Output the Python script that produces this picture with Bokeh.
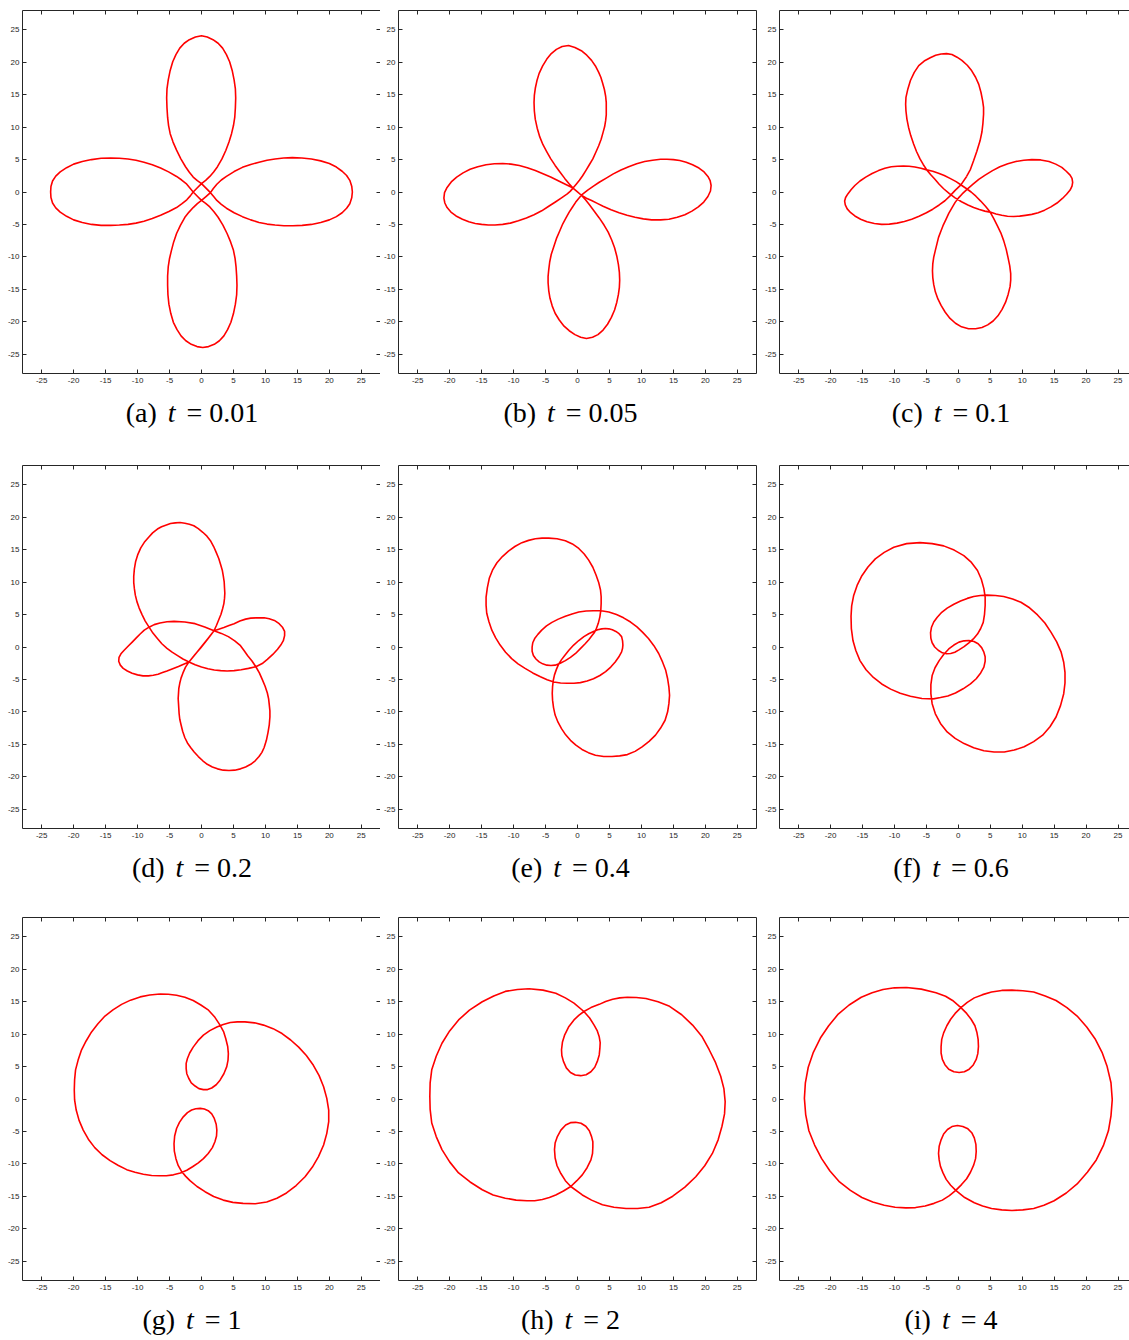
from bokeh.plotting import figure
from bokeh.models import Range1d, LinearAxis, FixedTicker, Div
from bokeh.layouts import column, row
from bokeh.embed import file_html
from bokeh.resources import INLINE

# ---------------- data ----------------
TICKS = [-25, -20, -15, -10, -5, 0, 5, 10, 15, 20, 25]
TICK_LABELS = ["-25", "-20", "-15", "-10", "-5", "0", "5", "10", "15", "20", "25"]
LETTERS = ["a", "b", "c", "d", "e", "f", "g", "h", "i"]
T_VALUES = ["0.01", "0.05", "0.1", "0.2", "0.4", "0.6", "1", "2", "4"]

curve_a = [(0.0,1.3),(0.65,1.8),(1.3,2.4),(1.9,3.1),(2.5,3.9),(3.2,5.1),(3.8,6.4),(4.3,7.7),(4.7,9.0),(5.0,10.25),(5.2,11.5),(5.3,13.0),(5.35,14.5),(5.3,15.9),(5.1,17.3),(4.8,18.75),(4.4,20.1),(3.9,21.2),(3.3,22.2),(2.6,22.95),(1.8,23.5),(0.9,23.9),(0.0,24.1),(-0.95,23.9),(-1.9,23.5),(-2.7,22.95),(-3.4,22.2),(-4.0,21.2),(-4.5,20.1),(-4.9,18.75),(-5.2,17.3),(-5.4,15.9),(-5.45,14.5),(-5.4,13.0),(-5.3,11.5),(-5.15,10.25),(-4.9,9.0),(-4.45,7.7),(-3.9,6.45),(-3.25,5.15),(-2.5,3.9),(-1.9,3.05),(-1.3,2.3),(-0.65,1.75),(0.0,1.3),
           (0.7,0.6),(1.4,-0.1),
           (1.9,-0.7),(2.4,-1.3),(3.1,-1.9),(3.9,-2.5),(5.1,-3.2),(6.4,-3.8),(7.7,-4.3),(9.0,-4.7),(10.25,-4.95),(11.5,-5.1),(12.9,-5.2),(14.3,-5.2),(15.75,-5.15),(17.2,-5.0),(18.65,-4.7),(20.0,-4.3),(21.1,-3.8),(22.0,-3.2),(22.7,-2.5),(23.2,-1.8),(23.5,-0.9),(23.6,0.0),(23.5,0.9),(23.2,1.8),(22.7,2.55),(22.0,3.2),(21.1,3.85),(20.0,4.4),(18.65,4.8),(17.2,5.1),(15.7,5.25),(14.2,5.3),(12.85,5.25),(11.5,5.1),(10.25,4.9),(9.0,4.6),(7.7,4.25),(6.4,3.8),(5.1,3.15),(3.9,2.4),(3.1,1.85),(2.4,1.2),(1.85,0.55),(1.4,-0.1),
           (0.7,-0.7),(0.0,-1.3),
           (-0.65,-1.8),(-1.3,-2.4),(-1.95,-3.1),(-2.6,-3.9),(-3.3,-5.15),(-3.9,-6.4),(-4.35,-7.7),(-4.7,-9.0),(-5.0,-10.25),(-5.2,-11.5),(-5.3,-12.95),(-5.3,-14.4),(-5.25,-15.85),(-5.1,-17.3),(-4.8,-18.75),(-4.4,-20.1),(-3.85,-21.2),(-3.2,-22.2),(-2.45,-22.95),(-1.6,-23.5),(-0.7,-23.85),(0.2,-24.0),(1.1,-23.85),(2.0,-23.5),(2.8,-22.95),(3.5,-22.2),(4.1,-21.2),(4.6,-20.1),(5.0,-18.75),(5.3,-17.3),(5.5,-15.85),(5.55,-14.4),(5.5,-12.95),(5.4,-11.5),(5.25,-10.25),(5.0,-9.0),(4.55,-7.7),(4.0,-6.4),(3.35,-5.1),(2.6,-3.9),(1.95,-3.05),(1.3,-2.3),(0.65,-1.75),(0.0,-1.3),
           (-0.65,-0.65),(-1.3,0.0),
           (-1.85,0.65),(-2.4,1.3),(-3.1,1.85),(-3.9,2.4),(-5.15,3.1),(-6.4,3.7),(-7.7,4.2),(-9.0,4.6),(-10.25,4.9),(-11.5,5.1),(-12.85,5.2),(-14.2,5.25),(-15.7,5.2),(-17.2,5.0),(-18.65,4.7),(-20.0,4.3),(-21.1,3.75),(-22.1,3.1),(-22.8,2.45),(-23.3,1.7),(-23.55,0.85),(-23.6,0.0),(-23.55,-0.85),(-23.3,-1.7),(-22.8,-2.45),(-22.1,-3.1),(-21.1,-3.75),(-20.0,-4.3),(-18.65,-4.7),(-17.2,-5.0),(-15.7,-5.15),(-14.2,-5.15),(-12.85,-5.1),(-11.5,-5.0),(-10.25,-4.8),(-9.0,-4.5),(-7.7,-4.1),(-6.4,-3.6),(-5.1,-3.0),(-3.9,-2.4),(-3.05,-1.8),(-2.3,-1.2),(-1.75,-0.6),(-1.3,0.0),
           (-0.65,0.65),(0.0,1.3)]

curve_b = [(-0.7,0.6),(-0.2,1.2),(0.3,1.8),(0.8,2.5),(1.3,3.3),(1.85,4.2),(2.4,5.1),(2.85,6.1),(3.3,7.1),(3.7,8.15),(4.0,9.2),(4.25,10.1),(4.4,11.0),(4.5,11.9),(4.5,12.8),(4.5,13.8),(4.4,14.8),(4.2,15.85),(3.9,16.9),(3.65,17.7),(3.3,18.5),(2.8,19.45),(2.2,20.3),(1.45,21.1),(0.6,21.8),(-0.4,22.3),(-1.4,22.6),(-2.4,22.45),(-3.3,22.0),(-4.1,21.35),(-4.8,20.5),(-5.45,19.45),(-6.0,18.3),(-6.35,17.15),(-6.6,16.0),(-6.75,14.9),(-6.8,13.8),(-6.75,12.5),(-6.6,11.2),(-6.3,9.85),(-5.9,8.5),(-5.4,7.3),(-4.8,6.2),(-4.2,5.15),(-3.5,4.1),(-2.75,3.1),(-2.0,2.1),(-1.35,1.3),(-0.7,0.6),
           (-0.05,0.05),(0.6,-0.5),
           (1.4,-0.95),(2.2,-1.3),(3.1,-1.75),(4.0,-2.2),(5.25,-2.75),(6.5,-3.2),(7.75,-3.6),(9.0,-3.9),(10.3,-4.15),(11.6,-4.3),(13.0,-4.3),(14.3,-4.2),(15.6,-3.9),(16.8,-3.5),(17.9,-2.95),(18.9,-2.3),(19.75,-1.55),(20.4,-0.7),(20.8,0.15),(20.9,1.0),(20.75,1.75),(20.4,2.4),(19.8,3.1),(19.0,3.7),(18.0,4.2),(17.0,4.6),(16.0,4.85),(15.0,5.0),(14.0,5.05),(13.0,5.05),(11.75,4.9),(10.5,4.7),(9.25,4.35),(8.0,3.9),(6.8,3.4),(5.6,2.8),(4.5,2.15),(3.4,1.5),(2.5,0.9),(1.6,0.3),(1.1,-0.1),(0.6,-0.5),
           (0.15,-1.05),(-0.3,-1.6),(-0.8,-2.35),(-1.3,-3.1),(-1.8,-4.0),(-2.3,-4.9),(-2.8,-6.05),(-3.3,-7.2),(-3.7,-8.4),(-4.1,-9.6),(-4.35,-10.8),(-4.5,-12.0),(-4.6,-13.0),(-4.6,-14.0),(-4.5,-15.2),(-4.3,-16.4),(-3.95,-17.6),(-3.5,-18.7),(-2.85,-19.75),(-2.1,-20.7),(-1.3,-21.4),(-0.4,-22.0),(0.5,-22.4),(1.4,-22.6),(2.35,-22.4),(3.2,-22.0),(4.0,-21.3),(4.7,-20.4),(5.3,-19.35),(5.8,-18.2),(6.15,-17.0),(6.4,-15.8),(6.55,-14.7),(6.6,-13.6),(6.55,-12.4),(6.4,-11.2),(6.15,-9.9),(5.8,-8.6),(5.35,-7.4),(4.8,-6.2),(4.15,-5.1),(3.4,-4.0),(2.65,-3.0),(1.9,-2.0),(1.25,-1.2),(0.6,-0.5),
           (-0.05,0.05),(-0.7,0.6),
           (-1.5,1.0),(-2.3,1.4),(-3.25,1.85),(-4.2,2.3),(-5.4,2.8),(-6.6,3.3),(-7.85,3.75),(-9.1,4.1),(-10.4,4.3),(-11.7,4.4),(-13.0,4.35),(-14.3,4.2),(-15.6,3.9),(-16.8,3.5),(-17.9,2.95),(-18.9,2.3),(-19.75,1.55),(-20.4,0.7),(-20.8,-0.1),(-20.9,-0.95),(-20.75,-1.7),(-20.4,-2.4),(-19.8,-3.1),(-19.0,-3.7),(-18.0,-4.2),(-17.0,-4.6),(-16.0,-4.85),(-15.0,-5.0),(-13.95,-5.1),(-12.9,-5.1),(-11.7,-5.0),(-10.5,-4.8),(-9.25,-4.45),(-8.0,-4.0),(-6.8,-3.5),(-5.6,-2.9),(-4.5,-2.2),(-3.4,-1.5),(-2.5,-0.9),(-1.6,-0.3),(-1.15,0.1),(-0.7,0.6)]

curve_c = [(1.3,2.4),(1.9,3.5),(2.4,4.85),(2.9,6.3),(3.4,7.9),(3.7,9.3),(3.85,10.6),(3.95,12.0),(3.95,13.05),(3.8,14.1),(3.55,15.35),(3.2,16.6),(2.7,17.7),(2.1,18.7),(1.4,19.55),(0.55,20.3),(-0.2,20.8),(-1.0,21.2),(-1.85,21.35),(-2.7,21.3),(-3.55,21.1),(-4.4,20.7),(-5.35,20.2),(-6.2,19.5),(-6.9,18.45),(-7.5,17.2),(-7.9,15.9),(-8.2,14.6),(-8.25,13.55),(-8.2,12.5),(-8.05,11.25),(-7.8,10.0),(-7.45,8.7),(-7.0,7.4),(-6.55,6.25),(-6.0,5.1),(-5.5,4.25),(-4.94,3.41),
           (-4.35,2.7),(-3.7,2.0),(-3.0,1.2),(-2.3,0.5),(-1.4,-0.25),(-0.5,-0.9),(0.5,-1.5),(1.5,-2.0),(2.4,-2.4),(3.3,-2.7),(4.15,-2.95),(4.98,-3.1),
           (5.9,-3.4),(6.8,-3.6),(7.7,-3.75),(8.65,-3.77),(9.6,-3.72),(10.5,-3.6),(11.5,-3.45),(12.5,-3.2),(13.5,-2.8),(14.5,-2.3),(15.45,-1.7),(16.3,-1.0),(16.95,-0.35),(17.5,0.3),(17.8,0.9),(17.9,1.5),(17.8,2.1),(17.5,2.6),(16.9,3.2),(16.2,3.8),(15.25,4.3),(14.2,4.7),(12.9,4.95),(11.5,5.0),(10.25,4.9),(9.0,4.7),(7.75,4.35),(6.5,3.9),(5.35,3.3),(4.2,2.6),(3.2,1.95),(2.3,1.2),(1.4,0.45),(0.6,-0.3),
           (0.0,-0.95),(-0.5,-1.6),(-1.0,-2.45),(-1.5,-3.3),(-1.95,-4.25),(-2.4,-5.2),(-2.75,-6.1),(-3.1,-7.0),(-3.35,-8.0),(-3.6,-9.0),(-3.85,-10.05),(-4.0,-11.1),(-4.05,-12.15),(-4.0,-13.2),(-3.85,-14.3),(-3.6,-15.4),(-3.2,-16.5),(-2.7,-17.5),(-2.05,-18.55),(-1.3,-19.5),(-0.45,-20.25),(0.5,-20.8),(1.6,-21.1),(2.7,-21.1),(3.7,-20.9),(4.6,-20.5),(5.45,-19.9),(6.2,-19.1),(6.85,-18.1),(7.4,-17.0),(7.8,-15.8),(8.1,-14.6),(8.2,-13.6),(8.2,-12.6),(8.05,-11.4),(7.8,-10.2),(7.5,-8.85),(7.1,-7.5),(6.65,-6.3),(6.1,-5.2),(5.55,-4.1),(4.98,-3.1),
           (4.25,-2.2),(3.5,-1.4),(2.75,-0.65),(2.0,0.0),(1.3,0.5),(0.55,1.0),(-0.35,1.6),(-1.3,2.1),(-2.2,2.55),(-3.1,2.9),(-4.0,3.2),(-4.94,3.41),
           (-5.85,3.65),(-6.8,3.85),(-7.7,3.97),(-8.6,4.0),(-9.55,3.98),(-10.5,3.9),(-11.5,3.65),(-12.5,3.3),(-13.5,2.85),(-14.5,2.3),(-15.4,1.7),(-16.2,1.0),(-16.8,0.35),(-17.3,-0.3),(-17.65,-0.85),(-17.8,-1.4),(-17.7,-2.0),(-17.4,-2.6),(-16.85,-3.2),(-16.2,-3.7),(-15.3,-4.2),(-14.3,-4.6),(-13.15,-4.85),(-12.0,-5.0),(-10.8,-4.95),(-9.6,-4.8),(-8.45,-4.55),(-7.3,-4.2),(-6.15,-3.75),(-5.0,-3.2),(-4.0,-2.65),(-3.0,-2.0),(-2.1,-1.35),(-1.3,-0.6),(-0.5,0.25),(0.4,1.1),(1.3,2.4)]

curve_d = [(1.96,2.5),(2.35,3.35),(2.7,4.2),(3.05,5.05),(3.3,5.9),(3.5,6.7),(3.6,7.5),(3.65,8.3),(3.6,9.1),(3.55,10.05),(3.4,11.0),(3.25,11.85),(3.0,12.7),(2.7,13.65),(2.3,14.6),(1.9,15.5),(1.4,16.4),(0.85,17.1),(0.2,17.7),(-0.5,18.25),(-1.2,18.7),(-1.9,18.95),(-2.6,19.1),(-3.35,19.2),(-4.1,19.15),(-4.85,19.05),(-5.6,18.8),(-6.25,18.55),(-6.9,18.2),(-7.65,17.6),(-8.3,16.9),(-8.95,16.15),(-9.5,15.3),(-9.95,14.3),(-10.3,13.2),(-10.5,12.05),(-10.6,10.9),(-10.6,9.95),(-10.5,9.0),(-10.35,8.0),(-10.1,7.0),(-9.75,6.0),(-9.3,5.0),(-8.8,4.0),(-8.2,3.06),
           (-7.6,2.15),(-6.9,1.3),(-6.2,0.5),(-5.4,-0.2),(-4.6,-0.8),(-3.8,-1.3),(-2.9,-1.85),(-1.96,-2.3),(-1.0,-2.75),(0.0,-3.1),(1.0,-3.35),(2.0,-3.55),(3.0,-3.65),(4.0,-3.7),(5.1,-3.65),(6.2,-3.5),(7.35,-3.3),(8.5,-3.05),
           (9.5,-2.55),(10.3,-1.9),(11.15,-1.15),(11.9,-0.35),(12.4,0.3),(12.8,0.97),(13.0,1.75),(13.0,2.4),(12.7,3.0),(12.15,3.6),(11.4,4.1),(10.6,4.35),(9.8,4.5),(8.5,4.5),(7.7,4.45),(6.9,4.3),(6.0,4.0),(5.1,3.6),(4.3,3.3),(3.5,3.0),(2.7,2.75),(1.96,2.5),
           (0.95,1.2),(-0.1,-0.1),(-1.05,-1.2),(-1.96,-2.3),
           (-2.5,-3.1),(-2.9,-4.0),(-3.2,-4.8),(-3.4,-5.6),(-3.55,-6.4),(-3.6,-7.2),(-3.65,-7.95),(-3.6,-8.7),(-3.55,-9.5),(-3.5,-10.3),(-3.4,-11.15),(-3.2,-12.0),(-2.95,-13.0),(-2.6,-14.0),(-2.2,-14.8),(-1.7,-15.5),(-1.15,-16.2),(-0.5,-16.9),(0.2,-17.55),(0.9,-18.1),(1.7,-18.5),(2.5,-18.8),(3.4,-19.0),(4.3,-19.05),(5.2,-19.0),(6.1,-18.8),(6.9,-18.5),(7.7,-18.1),(8.4,-17.55),(9.0,-16.9),(9.45,-16.25),(9.8,-15.5),(10.15,-14.4),(10.4,-13.2),(10.6,-12.0),(10.7,-10.8),(10.7,-9.85),(10.6,-8.9),(10.5,-8.0),(10.3,-7.1),(9.95,-6.05),(9.5,-5.0),(9.05,-4.0),(8.5,-3.05),
           (7.9,-2.15),(7.2,-1.3),(6.65,-0.55),(6.1,0.2),(5.2,0.95),(4.2,1.6),(3.1,2.1),(1.96,2.5),(0.5,3.1),(-1.0,3.6),(-2.6,3.85),(-4.3,3.95),(-5.4,3.9),(-6.5,3.7),(-7.4,3.45),(-8.2,3.06),
           (-8.95,2.6),(-9.6,2.0),(-10.2,1.4),(-10.8,0.8),(-11.45,0.15),(-12.1,-0.5),(-12.6,-1.05),(-12.9,-1.6),(-12.95,-2.2),(-12.7,-2.8),(-12.25,-3.3),(-11.6,-3.7),(-10.85,-4.05),(-10.0,-4.3),(-9.15,-4.45),(-8.3,-4.45),(-7.55,-4.35),(-6.8,-4.2),(-6.1,-3.95),(-5.4,-3.7),(-4.5,-3.35),(-3.6,-3.0),(-2.8,-2.65),(-1.96,-2.3),
           (-0.9,-1.05),(0.1,0.2),(1.05,1.35),(1.96,2.5)]

curve_e = [(2.9,2.7),(3.25,3.65),(3.5,4.65),(3.65,5.7),(3.7,6.7),(3.7,7.75),(3.6,8.8),(3.3,10.0),(2.9,11.1),(2.4,12.3),(1.75,13.4),(1.05,14.35),(0.2,15.2),(-0.8,15.9),(-1.9,16.4),(-3.2,16.7),(-4.5,16.8),(-5.55,16.8),(-6.6,16.7),(-7.65,16.45),(-8.7,16.1),(-9.8,15.5),(-10.8,14.8),(-11.75,13.95),(-12.6,13.0),(-13.3,11.85),(-13.8,10.6),(-14.1,9.15),(-14.3,7.7),(-14.3,6.45),(-14.2,5.2),(-13.85,3.9),(-13.4,2.6),(-12.8,1.4),(-12.1,0.3),(-11.25,-0.8),(-10.3,-1.8),(-9.3,-2.6),(-8.2,-3.3),(-7.0,-4.0),(-5.8,-4.6),(-4.75,-5.05),(-3.7,-5.4),(-2.65,-5.55),(-1.6,-5.6),(-0.55,-5.6),(0.45,-5.5),(1.5,-5.25),(2.5,-4.9),(3.5,-4.4),(4.4,-3.8),(5.2,-3.1),(5.9,-2.3),(6.45,-1.55),(6.9,-0.75),(7.05,-0.2),(7.1,0.3),(7.05,0.95),(6.9,1.6),(6.5,2.05),(6.0,2.4),(5.45,2.65),(4.9,2.8),(4.35,2.85),(3.8,2.8),(3.15,2.65),(2.5,2.4),(1.75,2.05),(1.0,1.6),(0.2,1.0),(-0.6,0.3),(-1.35,-0.5),(-2.0,-1.3),(-2.5,-1.95),(-2.95,-2.65),
           (-3.3,-3.45),(-3.6,-4.3),(-3.8,-5.2),(-3.9,-6.1),(-3.95,-7.15),(-3.9,-8.2),(-3.75,-9.35),(-3.5,-10.5),(-3.05,-11.6),(-2.5,-12.6),(-1.85,-13.55),(-1.1,-14.4),(-0.25,-15.15),(0.7,-15.8),(1.7,-16.3),(2.8,-16.7),(4.1,-16.9),(5.4,-16.9),(6.6,-16.8),(7.8,-16.6),(9.0,-16.1),(10.1,-15.4),(11.2,-14.55),(12.2,-13.6),(13.0,-12.5),(13.7,-11.3),(14.1,-10.0),(14.3,-8.7),(14.4,-7.45),(14.3,-6.2),(14.1,-4.9),(13.8,-3.6),(13.3,-2.3),(12.7,-1.0),(11.95,0.2),(11.1,1.3),(10.2,2.25),(9.3,3.1),(8.3,3.85),(7.2,4.5),(6.1,5.0),(4.9,5.4),(3.7,5.6),(2.5,5.6),(1.35,5.55),(0.2,5.4),(-0.85,5.1),(-1.9,4.75),(-3.0,4.3),(-4.0,3.8),(-4.85,3.25),(-5.6,2.6),(-6.2,1.95),(-6.7,1.3),(-7.0,0.65),(-7.1,0.0),(-7.1,-0.65),(-6.9,-1.3),(-6.5,-1.85),(-6.0,-2.3),(-5.45,-2.6),(-4.8,-2.8),(-4.15,-2.85),(-3.5,-2.8),(-2.7,-2.5),(-1.9,-2.1),(-1.1,-1.6),(-0.3,-1.0),(0.45,-0.25),(1.2,0.5),(1.8,1.15),(2.3,1.8),(2.65,2.25),(2.9,2.7)]

curve_f = [(-3.9,-8.0),(-5.7,-7.95),(-7.5,-7.6),(-9.1,-7.15),(-10.6,-6.5),(-12.0,-5.7),(-13.3,-4.7),(-14.45,-3.5),(-15.4,-2.1),(-16.05,-0.55),(-16.5,1.0),(-16.75,2.85),(-16.8,4.75),(-16.7,6.35),(-16.4,7.9),(-15.85,9.5),(-15.1,11.0),(-14.15,12.35),(-13.0,13.6),(-11.6,14.6),(-10.1,15.4),(-8.1,15.95),(-6.0,16.1),(-4.1,15.95),(-2.3,15.6),(-0.65,14.95),(0.86,14.1),(2.05,13.05),(3.0,11.8),(3.6,10.45),(4.0,9.0),(4.2,7.7),(4.2,6.4),(4.1,5.05),(3.9,3.8),(3.5,2.85),(3.0,2.0),(2.35,1.25),(1.65,0.64),(0.9,0.05),(0.1,-0.44),(-0.55,-0.8),(-1.2,-1.0),(-1.85,-1.05),(-2.5,-0.9),(-3.15,-0.5),(-3.7,0.0),(-4.1,0.65),(-4.3,1.35),(-4.35,2.2),(-4.2,3.05),(-3.85,3.85),(-3.3,4.6),(-2.6,5.35),(-1.75,6.0),(-0.7,6.6),(0.35,7.1),(1.4,7.5),(2.4,7.8),(3.45,7.95),(4.5,8.0),
           (5.8,7.95),(7.1,7.8),(8.5,7.4),(9.8,6.9),(11.15,6.05),(12.4,4.95),(13.55,3.7),(14.5,2.3),(15.4,0.8),(16.1,-0.8),(16.5,-2.35),(16.7,-3.9),(16.7,-5.55),(16.5,-7.2),(16.0,-9.05),(15.3,-10.8),(14.35,-12.3),(13.2,-13.6),(11.8,-14.6),(10.3,-15.4),(8.75,-15.9),(7.2,-16.2),(5.6,-16.2),(4.0,-16.0),(2.4,-15.55),(0.9,-14.9),(-0.5,-14.1),(-1.75,-13.1),(-2.8,-11.8),(-3.6,-10.3),(-4.1,-8.75),(-4.3,-7.2),(-4.3,-5.8),(-4.1,-4.4),(-3.65,-3.2),(-3.0,-2.1),(-2.3,-1.15),(-1.5,-0.3),(-0.7,0.3),(0.1,0.75),(0.9,0.95),(1.65,1.0),(2.45,0.85),(3.1,0.5),(3.65,-0.1),(4.0,-0.8),(4.2,-1.5),(4.2,-2.2),(4.0,-3.1),(3.5,-4.0),(2.8,-4.9),(1.9,-5.7),(0.75,-6.45),(-0.45,-7.1),(-1.65,-7.55),(-2.8,-7.8),(-3.9,-8.0)]

curve_g = [(-6.5,16.2),(-5.2,16.15),(-3.9,16.0),(-2.6,15.7),(-1.3,15.2),(-0.1,14.5),(1.1,13.7),(2.1,12.6),(2.9,11.4),(3.45,10.4),(3.8,9.3),(4.1,8.1),(4.2,7.0),(4.15,6.0),(3.95,5.0),(3.5,3.9),(2.9,2.9),(2.3,2.2),(1.6,1.7),(0.95,1.45),(0.3,1.45),(-0.4,1.6),(-1.0,2.0),(-1.6,2.5),(-2.0,3.2),(-2.3,3.9),(-2.4,4.7),(-2.4,5.5),(-2.2,6.25),(-1.85,7.1),(-1.3,8.0),(-0.55,9.0),(0.3,9.85),(1.3,10.55),(2.4,11.1),(3.4,11.5),(4.5,11.8),(5.6,11.9),(6.8,11.9),(8.3,11.75),(9.7,11.4),(11.2,10.85),(12.6,10.1),(13.95,9.1),(15.2,8.0),(16.4,6.7),(17.5,5.2),(18.4,3.6),(19.1,1.9),(19.6,0.1),(19.9,-1.7),(19.9,-3.5),(19.6,-5.3),(19.1,-7.1),(18.3,-8.9),(17.35,-10.5),(16.2,-12.0),(14.8,-13.35),(13.3,-14.5),(11.8,-15.3),(10.2,-15.9),(8.4,-16.15),(6.5,-16.1),(4.9,-15.95),(3.4,-15.6),(1.9,-15.05),(0.55,-14.3),(-0.7,-13.5),(-1.8,-12.6),(-2.5,-11.9),(-3.1,-11.2),(-3.65,-10.25),(-4.0,-9.2),(-4.25,-8.05),(-4.3,-6.9),(-4.2,-5.7),(-3.9,-4.55),(-3.45,-3.6),(-2.85,-2.75),(-2.2,-2.1),(-1.55,-1.7),(-0.9,-1.5),(-0.2,-1.45),(0.45,-1.55),(1.05,-1.8),(1.6,-2.3),(2.0,-3.0),(2.3,-3.9),(2.4,-4.8),(2.35,-5.7),(2.1,-6.6),(1.7,-7.5),(1.05,-8.4),(0.3,-9.2),(-0.5,-9.85),(-1.4,-10.45),(-2.3,-11.0),(-3.3,-11.4),(-4.4,-11.7),(-5.5,-11.85),(-6.6,-11.85),(-7.8,-11.8),(-9.1,-11.6),(-10.4,-11.3),(-11.7,-10.9),(-13.0,-10.25),(-14.3,-9.5),(-15.55,-8.6),(-16.7,-7.5),(-17.7,-6.2),(-18.5,-4.8),(-19.15,-3.3),(-19.6,-1.7),(-19.85,-0.15),(-19.9,1.4),(-19.85,2.95),(-19.7,4.5),(-19.3,6.0),(-18.8,7.5),(-18.05,8.95),(-17.2,10.35),(-16.2,11.6),(-15.1,12.8),(-13.85,13.75),(-12.5,14.6),(-11.1,15.25),(-9.6,15.75),(-8.1,16.05),(-6.5,16.2)]

curve_h = [(-7.6,17.0),(-5.4,16.8),(-3.4,16.3),(-1.9,15.6),(-0.55,14.8),(1.0,13.5),(1.9,12.5),(2.6,11.4),(3.1,10.5),(3.4,9.6),(3.55,8.7),(3.5,7.8),(3.4,6.8),(3.1,5.8),(2.7,4.9),(2.1,4.2),(1.35,3.75),(0.5,3.6),(-0.35,3.7),(-1.1,4.1),(-1.75,4.8),(-2.2,5.8),(-2.45,6.7),(-2.5,7.6),(-2.35,8.8),(-2.0,9.9),(-1.4,11.1),(-0.55,12.2),(0.2,12.9),(1.0,13.5),(2.1,14.1),(3.4,14.6),(4.4,15.05),(5.5,15.4),(6.6,15.6),(7.8,15.7),(9.2,15.65),(10.7,15.5),(12.6,15.0),(14.4,14.3),(16.3,13.0),(18.0,11.4),(19.5,9.6),(20.6,7.6),(21.6,5.6),(22.4,3.5),(22.9,1.6),(23.1,-0.4),(23.0,-2.3),(22.6,-4.2),(22.0,-6.3),(21.1,-8.4),(19.9,-10.3),(18.5,-12.0),(16.8,-13.6),(14.9,-15.0),(13.1,-16.0),(11.2,-16.7),(9.4,-16.9),(7.6,-16.9),(5.7,-16.7),(3.9,-16.3),(2.2,-15.6),(0.75,-14.8),(-1.05,-13.5),(-1.9,-12.6),(-2.6,-11.5),(-3.2,-10.3),(-3.5,-9.1),(-3.6,-7.8),(-3.5,-6.8),(-3.15,-5.8),(-2.6,-4.8),(-1.85,-4.0),(-1.1,-3.65),(-0.3,-3.6),(0.55,-3.75),(1.3,-4.2),(1.85,-4.9),(2.2,-5.8),(2.4,-6.6),(2.4,-7.4),(2.35,-8.4),(2.1,-9.4),(1.5,-10.6),(0.75,-11.7),(-0.1,-12.6),(-1.05,-13.5),(-2.2,-14.2),(-3.4,-14.8),(-4.4,-15.2),(-5.5,-15.5),(-6.7,-15.7),(-7.9,-15.7),(-9.6,-15.6),(-11.3,-15.3),(-13.2,-14.8),(-14.9,-14.0),(-16.8,-12.8),(-18.6,-11.4),(-20.0,-9.7),(-21.2,-7.8),(-22.1,-5.8),(-22.8,-3.7),(-23.05,-1.6),(-23.1,0.4),(-23.05,2.5),(-22.8,4.5),(-22.1,6.6),(-21.2,8.6),(-20.0,10.5),(-18.6,12.2),(-16.9,13.7),(-14.9,15.0),(-13.1,15.9),(-11.3,16.6),(-9.4,16.9),(-7.6,17.0)]

curve_i = [(-8.1,17.2),(-5.8,16.95),(-3.5,16.4),(-2.0,15.85),(-0.9,15.2),(0.4,14.1),(1.3,13.2),(2.0,12.3),(2.6,11.3),(2.9,10.3),(3.1,9.2),(3.15,8.1),(3.05,7.0),(2.8,6.1),(2.3,5.2),(1.7,4.6),(0.95,4.2),(0.13,4.1),(-0.7,4.2),(-1.5,4.6),(-2.1,5.3),(-2.5,6.1),(-2.7,7.1),(-2.7,8.1),(-2.6,9.2),(-2.3,10.2),(-1.8,11.3),(-1.2,12.3),(-0.5,13.2),(0.4,14.1),(1.4,14.9),(2.5,15.6),(3.8,16.1),(5.2,16.5),(6.8,16.75),(8.4,16.8),(10.1,16.7),(11.8,16.5),(13.6,15.9),(15.3,15.2),(17.0,14.1),(18.6,12.8),(20.1,11.1),(21.4,9.3),(22.5,7.2),(23.3,5.0),(23.9,2.5),(24.1,-0.1),(23.9,-2.6),(23.5,-4.9),(22.7,-7.2),(21.6,-9.4),(20.2,-11.3),(18.6,-13.1),(16.9,-14.5),(15.0,-15.7),(13.4,-16.4),(11.8,-16.9),(10.1,-17.1),(8.4,-17.2),(6.8,-17.1),(5.2,-16.9),(3.8,-16.5),(2.5,-16.0),(1.0,-15.2),(-0.4,-14.1),(-1.2,-13.3),(-1.9,-12.4),(-2.4,-11.4),(-2.8,-10.4),(-3.0,-9.4),(-3.1,-8.4),(-3.0,-7.3),(-2.7,-6.3),(-2.3,-5.4),(-1.7,-4.7),(-1.0,-4.25),(-0.13,-4.1),(0.7,-4.25),(1.5,-4.6),(2.1,-5.2),(2.5,-6.0),(2.75,-7.0),(2.8,-8.1),(2.7,-9.2),(2.4,-10.2),(1.9,-11.3),(1.3,-12.3),(0.5,-13.2),(-0.4,-14.1),(-1.4,-14.9),(-2.5,-15.6),(-3.8,-16.1),(-5.2,-16.5),(-6.7,-16.75),(-8.2,-16.8),(-9.9,-16.7),(-11.6,-16.4),(-13.4,-15.9),(-15.1,-15.2),(-16.9,-14.1),(-18.6,-12.8),(-20.1,-11.1),(-21.4,-9.2),(-22.5,-7.1),(-23.4,-4.9),(-23.9,-2.4),(-24.1,0.1),(-23.95,2.5),(-23.5,4.9),(-22.7,7.2),(-21.6,9.4),(-20.3,11.3),(-18.8,13.1),(-17.1,14.5),(-15.2,15.7),(-13.5,16.4),(-11.8,16.9),(-10.0,17.15),(-8.1,17.2)]

CURVES = [curve_a, curve_b, curve_c, curve_d, curve_e, curve_f, curve_g, curve_h, curve_i]

# ---------------- styling / layout ----------------
AXIS_COLOR = "#262626"
FRAME_H = 363
COL_FRAME_W = [358, 358, 350]
COL_X_END = [28.0, 28.0, 26.8]
COL_BORDER_LEFT = [22, 18, 18]
COL_BORDER_RIGHT = [0, 5, 0]
COL_FIG_W = [COL_BORDER_LEFT[c] + COL_FRAME_W[c] + COL_BORDER_RIGHT[c] for c in range(3)]
COL_CAP_SHIFT = [2, 0, 6]
ROW_BORDER_TOP = [10, 2, 2]
ROW_CAP_H = [69, 66, 39]


def make_axis(show_labels):
    ax = LinearAxis(ticker=FixedTicker(ticks=TICKS))
    ax.axis_line_color = AXIS_COLOR
    ax.axis_line_width = 1
    ax.major_tick_line_color = AXIS_COLOR
    ax.major_tick_in = 4
    ax.major_tick_out = 0
    ax.minor_tick_line_color = None
    ax.minor_tick_out = 0
    if show_labels:
        ax.major_label_overrides = dict(zip(TICKS, TICK_LABELS))
        ax.major_label_text_font = "Liberation Sans"
        ax.major_label_text_font_size = "8px"
        ax.major_label_text_color = AXIS_COLOR
    else:
        ax.major_label_text_color = None
        ax.major_label_standoff = 0
    return ax


def make_panel(idx):
    col = idx % 3
    r = idx // 3
    pts = CURVES[idx]
    xs = [p[0] for p in pts]
    ys = [p[1] for p in pts]
    p = figure(frame_width=COL_FRAME_W[col], frame_height=FRAME_H,
               x_range=Range1d(-28, COL_X_END[col]), y_range=Range1d(-28, 28),
               output_backend="svg", toolbar_location=None,
               x_axis_location=None, y_axis_location=None,
               min_border_left=COL_BORDER_LEFT[col], min_border_right=COL_BORDER_RIGHT[col],
               min_border_top=ROW_BORDER_TOP[r], min_border_bottom=21)
    p.outline_line_color = None
    p.xgrid.visible = False
    p.ygrid.visible = False
    p.background_fill_color = "white"
    p.border_fill_color = "white"
    left = make_axis(True)
    left.major_label_standoff = 3
    p.add_layout(left, "left")
    below = make_axis(True)
    below.major_label_standoff = 4
    p.add_layout(below, "below")
    p.add_layout(make_axis(False), "above")
    if col < 2:
        p.add_layout(make_axis(False), "right")
    p.line(xs, ys, line_color="#ff0000", line_width=1.6, line_join="round")
    return p


def make_caption(idx):
    col = idx % 3
    r = idx // 3
    w = COL_FIG_W[col]
    h = ROW_CAP_H[r]
    gap = '<span style="display:inline-block;width:{}px"></span>'
    html = ('<div style="width:{w}px;height:{h}px;overflow:hidden;text-align:center;'
            'font-family:\'Liberation Serif\',serif;font-size:28px;line-height:30px;color:#000;">'
            '<div style="position:relative;left:{s}px;top:4px;white-space:nowrap;">'
            '({L}){g1}<i>t</i>{g2}={g3}{T}</div></div>').format(
        w=w, h=h, s=COL_CAP_SHIFT[col], L=LETTERS[idx], T=T_VALUES[idx],
        g1=gap.format(11), g2=gap.format(11), g3=gap.format(7))
    return Div(text=html, width=w, height=h, margin=0)


rows = []
for r in range(3):
    rows.append(row([make_panel(3 * r + c) for c in range(3)], spacing=0))
    rows.append(row([make_caption(3 * r + c) for c in range(3)], spacing=0))
layout = column(rows, spacing=0)

open("out.html", "w").write(file_html(layout, INLINE))
